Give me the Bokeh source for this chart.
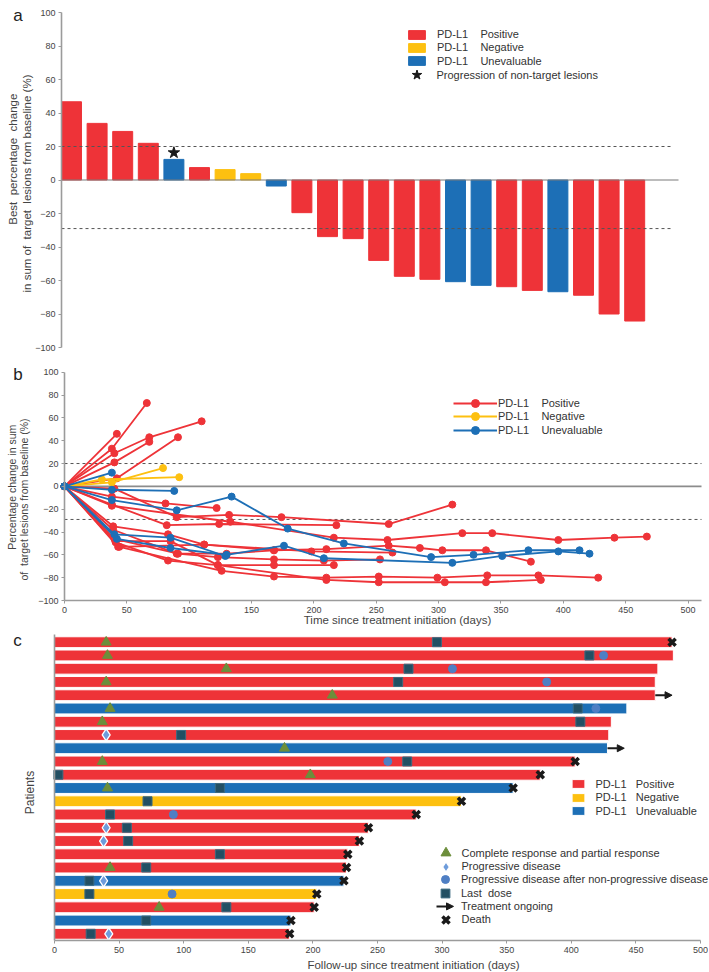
import math
from bokeh.plotting import figure
from bokeh.layouts import column
from bokeh.models import (Range1d, Label, Legend, LegendItem, ColumnDataSource, FixedTicker,
                          Arrow, NormalHead)
from bokeh.embed import file_html
from bokeh.resources import INLINE

FONT = "Liberation Sans"
NB = "\u00a0"
GROUPS = ["Positive", "Negative", "Unevaluable"]
COLORS = {"Positive": "#EE3338", "Negative": "#FDC010", "Unevaluable": "#1D6FB6"}

# ---------------- panel a: best percentage change (waterfall) ----------------
best_change = [46.7, 33.8, 29.0, 21.9, 12.3, 7.4, 6.2, 3.8, -3.6, -19.5, -33.8, -35.0,
               -48.0, -57.5, -59.3, -60.7, -62.9, -63.7, -65.9, -66.7, -68.8, -80.0, -84.2]
best_pdl1 = ["Positive", "Positive", "Positive", "Positive", "Unevaluable", "Positive",
             "Negative", "Negative", "Unevaluable", "Positive", "Positive", "Positive",
             "Positive", "Positive", "Positive", "Unevaluable", "Unevaluable", "Positive",
             "Positive", "Unevaluable", "Positive", "Positive", "Positive"]
nontarget_prog = [5]
a_ticks = [-100, -80, -60, -40, -20, 0, 20, 40, 60, 80, 100]
thresholds = [20, -29]

# ---------------- panel b: change over time (spider) ----------------
pos_days = [
    [0, 42], [0, 38, 66], [0, 40, 68, 110], [0, 40, 68], [0, 42, 91], [0, 38, 81, 122],
    [0, 40, 90, 132, 174, 260, 311], [0, 38, 82, 124, 218],
    [0, 38, 133, 216, 259, 319, 343, 396, 441, 467],
    [0, 39, 83, 112, 168, 210, 260, 285, 303, 338, 374],
    [0, 41, 85, 123, 168, 216], [0, 39, 90, 123, 168, 208, 253], [0, 43, 112, 198, 263],
    [0, 40, 91, 130, 168], [0, 44, 126, 168, 210, 252, 299, 339, 380, 428],
    [0, 41, 83, 123, 210, 252, 305, 338, 382]]
pos_change = [
    [0, 46], [0, 33, 73], [0, 29, 43, 57], [0, 21, 39], [0, 7, 43], [0, -9, -15, -19],
    [0, -2, -27, -25, -27, -33, -16], [0, -16, -34, -33, -34],
    [0, -17, -31, -45, -47, -41, -41, -47, -45, -44],
    [0, -35, -42, -51, -56, -55, -52, -54, -56, -56, -66],
    [0, -48, -48, -69, -69, -69], [0, -38, -59, -62, -64, -65, -64], [0, -53, -51, -57, -58],
    [0, -46, -59, -59, -56], [0, -53, -74, -79, -80, -79, -80, -78, -78, -80],
    [0, -49, -65, -69, -82, -84, -84, -84, -82]]
neg_days = [[0, 38, 79], [0, 30, 92]]
neg_change = [[0, 3.5, 16], [0, 6, 8]]
unev_days = [[0, 38], [0, 38, 88], [0, 38, 90, 134, 179, 224, 294, 328, 372, 413],
             [0, 42, 85, 130, 176, 208, 311, 351, 396, 421], [0, 40, 85, 129]]
unev_change = [[0, 12], [0, -3, -4], [0, -12, -21, -9, -37, -50, -62, -60, -56, -56],
               [0, -46, -54, -60, -52, -63, -67, -61, -57, -59], [0, -42, -45, -61]]
day_ticks = [0, 50, 100, 150, 200, 250, 300, 350, 400, 450, 500]

# ---------------- panel c: swimmer plot ----------------
c_pdl1 = ["Positive", "Positive", "Positive", "Positive", "Positive", "Unevaluable", "Positive",
          "Positive", "Unevaluable", "Positive", "Positive", "Unevaluable", "Negative", "Positive",
          "Positive", "Positive", "Positive", "Positive", "Unevaluable", "Negative", "Positive",
          "Unevaluable", "Positive"]
c_followup = [478, 479, 467, 465, 465, 443, 431, 429, 428, 403, 376, 355, 315, 280, 243, 236,
              227, 226, 224, 203, 201, 183, 182]
c_status = ["Death", "", "", "", "Ongoing", "", "", "", "Ongoing", "Death", "Death", "Death",
            "Death", "Death", "Death", "Death", "Death", "Death", "Death", "Death", "Death",
            "Death", "Death"]
resp_rows = [1, 2, 3, 4, 5, 6, 7, 9, 10, 11, 12, 18, 21]
resp_days = [40, 41, 133, 40, 215, 43, 37, 178, 37, 198, 41, 43, 81]
pd_rows = [8, 15, 16, 19, 23]
pd_days = [40, 40, 38, 38, 42]
pdnp_rows = [2, 3, 4, 6, 10, 14, 20]
pdnp_days = [425, 308, 381, 419, 258, 92, 91]
dose_rows = [1, 2, 3, 4, 6, 7, 8, 10, 11, 12, 13, 14, 15, 16, 17, 18, 19, 20, 21, 22, 23]
dose_days = [296, 414, 274, 266, 405, 407, 98, 273, 3, 128, 72, 43, 56, 57, 128, 71, 27, 27,
             133, 71, 28]

# ---------------- layout helpers (page pixel positions) ----------------
W = 708


def lin_range(v0, p0, v1, p1, size):
    s = (p1 - p0) / (v1 - v0)
    start = v0 - p0 / s
    return Range1d(start, start + size / s)


def at(rng, p, size):
    return rng.start + (rng.end - rng.start) * p / size


def style_axis(ax):
    ax.axis_line_color = "#9b9b9b"
    ax.axis_line_width = 1.6
    ax.major_tick_line_color = "#9b9b9b"
    ax.major_tick_out = 3
    ax.major_tick_in = 0
    ax.minor_tick_line_color = None
    ax.major_label_text_font = FONT
    ax.major_label_text_font_size = "9px"
    ax.major_label_text_color = "#444444"
    ax.major_label_standoff = 3


class Panel:
    def __init__(self, top, height, xr, yr, x_axis=True):
        self.top, self.height = top, height
        self.p = figure(width=W, height=height, x_range=xr, y_range=yr, output_backend="svg",
                        toolbar_location=None, title=None, min_border=0, min_border_left=0,
                        min_border_right=0, min_border_top=0, min_border_bottom=0,
                        x_axis_location="below" if x_axis else None)
        self.p.outline_line_color = None
        self.p.xgrid.visible = False
        self.p.ygrid.visible = False

    def sy(self, yp):
        return self.height - (yp - self.top)

    def txt(self, xp, yp, text, size, angle=0.0, align="left", baseline="middle",
            color="#444444"):
        self.p.add_layout(Label(x=xp, y=self.sy(yp), x_units="screen", y_units="screen",
                                text=text, text_font=FONT, text_font_size=size, angle=angle,
                                text_align=align, text_baseline=baseline, text_color=color))

    def key(self, renderers, label, left, yc, gw, gh, standoff, size="11px"):
        lg = Legend(items=[LegendItem(label=label, renderers=renderers)],
                    location=(left, self.sy(yc) - gh / 2), glyph_width=gw,
                    glyph_height=gh, label_height=gh, label_standoff=standoff, padding=0,
                    margin=0, spacing=0, border_line_color=None, background_fill_alpha=0,
                    label_text_font=FONT, label_text_font_size=size,
                    label_text_color="#333333")
        self.p.add_layout(lg)


# ======================= panel a =======================
TA, HA = 0, 358
xr_a = lin_range(1, 71, 23, 71 + 22 * 25.6, W)
yr_a = lin_range(100, HA - (12 - TA), -100, HA - (347 - TA), HA)
A = Panel(TA, HA, xr_a, yr_a, x_axis=False)
pa = A.p
x_axis_a = at(xr_a, 61, W)
style_axis(pa.yaxis[0])
pa.yaxis.ticker = FixedTicker(ticks=a_ticks)
pa.yaxis.fixed_location = x_axis_a
pa.yaxis.bounds = (-100, 100)

idx = list(range(1, len(best_change) + 1))
bar_r = {}
for g in GROUPS:
    sel = [i for i, s in enumerate(best_pdl1) if s == g]
    src = ColumnDataSource(dict(x=[idx[i] for i in sel], top=[best_change[i] for i in sel]))
    bar_r[g] = pa.vbar(x="x", top="top", bottom=0, width=0.78, source=src,
                       fill_color=COLORS[g], line_color=COLORS[g], line_width=1)
dash_end_a = at(xr_a, 670, W)
for lvl in thresholds:
    pa.segment(x0=[x_axis_a], y0=[lvl], x1=[dash_end_a], y1=[lvl], line_color="#555555",
               line_dash="3 3", line_width=1)
pa.segment(x0=[x_axis_a], y0=[0], x1=[at(xr_a, 678, W)], y1=[0], line_color="#7a7a7a",
           line_width=1.2)
star_r = pa.scatter(x=[k for k in nontarget_prog],
                    y=[best_change[k - 1] + 4 for k in nontarget_prog],
                    marker="star", size=12, fill_color="#1a1a1a", line_color="#1a1a1a")

A.txt(12.7, 15, "a", "17px", baseline="alphabetic", color="#222222")
A.txt(12, 158.7, f"Best{NB}{NB}percentage{NB}{NB}change", "11.5px", angle=math.pi / 2,
      align="center")
A.txt(26.5, 183, f"in sum of{NB}{NB}target{NB}{NB}lesions from baseline (%)", "11.5px",
      angle=math.pi / 2, align="center")

for g, yc in zip(GROUPS, [34.7, 47.7, 61.3]):
    A.key([bar_r[g]], f"PD-L1{NB}{NB}{NB}{NB}{g}", 406, yc, 21, 11, 10)
A.key([star_r], "Progression of non-target lesions", 403.5, 74.7, 25, 25, 8)

# ======================= panel b =======================
TB, HB = 358, 268
xr_b = lin_range(0, 64, 500, 687.5, W)
yr_b = lin_range(100, HB - (371.7 - TB), -100, HB - (600 - TB), HB)
B = Panel(TB, HB, xr_b, yr_b)
pb = B.p
x_end_b = at(xr_b, 701, W)
style_axis(pb.yaxis[0])
style_axis(pb.xaxis[0])
pb.yaxis.ticker = FixedTicker(ticks=a_ticks)
pb.xaxis.ticker = FixedTicker(ticks=day_ticks)
pb.yaxis.fixed_location = 0
pb.yaxis.bounds = (-100, 100)
pb.xaxis.fixed_location = -100
pb.xaxis.bounds = (0, x_end_b)

pb.segment(x0=[0], y0=[0], x1=[x_end_b], y1=[0], line_color="#8c8c8c", line_width=1.8)
for lvl in thresholds:
    pb.segment(x0=[0], y0=[lvl], x1=[x_end_b], y1=[lvl], line_color="#555555",
               line_dash="3 3", line_width=1)

line_r = {}
for g, dd, vv in [("Positive", pos_days, pos_change), ("Negative", neg_days, neg_change),
                  ("Unevaluable", unev_days, unev_change)]:
    ml = pb.multi_line(xs=dd, ys=vv, line_color=COLORS[g], line_width=1.8)
    sc = pb.scatter(x=[d for row in dd for d in row], y=[v for row in vv for v in row],
                    size=7, fill_color=COLORS[g], line_color=COLORS[g])
    line_r[g] = [ml, sc]

B.txt(12.7, 374, "b", "17px", baseline="alphabetic", color="#222222")
B.txt(11.5, 486.7, "Percentage change in sum", "10.5px", angle=math.pi / 2, align="center")
B.txt(23, 499, f"of{NB}{NB}target lesions from baseline (%)", "10.5px",
      angle=math.pi / 2, align="center")
B.txt(397, 619, "Time since treatment initiation (days)", "11.5px", align="center")
for g, yc in zip(GROUPS, [402.7, 416.2, 429.7]):
    B.key(line_r[g], f"PD-L1{NB}{NB}{NB}{NB}{g}", 453, yc, 44, 20, 1)

# ======================= panel c =======================
TC, HC = 626, 345
xr_c = lin_range(0, 54, 500, 700, W)
yr_c = lin_range(1, HC - (641.7 - TC), 23, HC - (933.3 - TC), HC)
C = Panel(TC, HC, xr_c, yr_c)
pc = C.p
row_top = at(yr_c, C.sy(634), HC)
row_axis = at(yr_c, C.sy(940), HC)
style_axis(pc.xaxis[0])
style_axis(pc.yaxis[0])
pc.xaxis.ticker = FixedTicker(ticks=day_ticks)
pc.yaxis.ticker = FixedTicker(ticks=[])
pc.yaxis.major_tick_line_color = None
pc.yaxis.fixed_location = 0
pc.yaxis.bounds = (row_top, row_axis)
pc.xaxis.fixed_location = row_axis
pc.xaxis.bounds = (0, 500)

rows = list(range(1, len(c_followup) + 1))
hbar_r = {}
for g in GROUPS:
    sel = [i for i, s in enumerate(c_pdl1) if s == g]
    src = ColumnDataSource(dict(y=[rows[i] for i in sel], right=[c_followup[i] for i in sel]))
    hbar_r[g] = pc.hbar(y="y", left=0, right="right", height=0.82, source=src,
                        fill_color=COLORS[g], line_color="white", line_width=1)

TRI_C, DIA_C, CIR_C, SQ_C, BLK = "#6C8E3B", "#6E9CDB", "#4F7FC4", "#224F63", "#1a1a1a"
tri_r = pc.scatter(x=resp_days, y=resp_rows, marker="triangle", size=10,
                   fill_color=TRI_C, line_color=TRI_C)
dia_r = pc.scatter(x=pd_days, y=pd_rows, marker="diamond", size=12,
                   fill_color=DIA_C, line_color="white", line_width=1.3)
cir_r = pc.scatter(x=pdnp_days, y=pdnp_rows, marker="circle", size=8,
                   fill_color=CIR_C, line_color=CIR_C)
sq_r = pc.scatter(x=dose_days, y=dose_rows, marker="square", size=9,
                  fill_color=SQ_C, line_color="#3B6A80")

ong = [i for i, s in enumerate(c_status) if s == "Ongoing"]
dth = [i for i, s in enumerate(c_status) if s == "Death"]
ARROW_LEN = 13
arrow_src = ColumnDataSource(dict(x0=[c_followup[i] for i in ong],
                                  x1=[c_followup[i] + ARROW_LEN for i in ong],
                                  y=[rows[i] for i in ong]))
pc.add_layout(Arrow(source=arrow_src, x_start="x0", y_start="y", x_end="x1", y_end="y",
                    line_color=BLK, line_width=2,
                    end=NormalHead(size=7, fill_color=BLK, line_color=BLK)))
arrow_key = pc.segment(x0=[], y0=[], x1=[], y1=[], line_alpha=0)
x_r = pc.scatter(x=[c_followup[i] for i in dth], y=[rows[i] for i in dth], marker="x",
                 size=10, line_color=BLK, line_width=3.5)

C.txt(12.7, 640, "c", "17px", baseline="alphabetic", color="#222222")
C.txt(29, 792, "Patients", "12px", angle=math.pi / 2, align="center")
C.txt(413, 964, "Follow-up since treatment initiation (days)", "11.5px", align="center")

for g, yc in zip(GROUPS, [784, 797.7, 811.3]):
    C.key([hbar_r[g]], f"PD-L1{NB}{NB}{NB}{g}", 570.4, yc, 16, 11, 9)
C.key([tri_r], "Complete response and partial response", 432.5, 852.7, 25, 25, 4)
C.key([dia_r], "Progressive disease", 432.5, 866.0, 25, 25, 4)
C.key([cir_r], "Progressive disease after non-progressive disease", 435, 879.3, 20, 20, 6)
C.key([sq_r], f"Last{NB}{NB}dose", 434, 892.6, 22, 22, 5)
C.key([arrow_key], "Treatment ongoing", 436, 905.9, 17, 17, 8)
pc.add_layout(Arrow(x_start=436, y_start=C.sy(905.9), x_end=453, y_end=C.sy(905.9),
                    start_units="screen", end_units="screen", line_color=BLK, line_width=2,
                    end=NormalHead(size=7, fill_color=BLK, line_color=BLK)))
C.key([x_r], "Death", 432.5, 919.2, 25, 25, 4)

layout = column(pa, pb, pc, spacing=0)
open("out.html", "w").write(file_html(layout, INLINE))
